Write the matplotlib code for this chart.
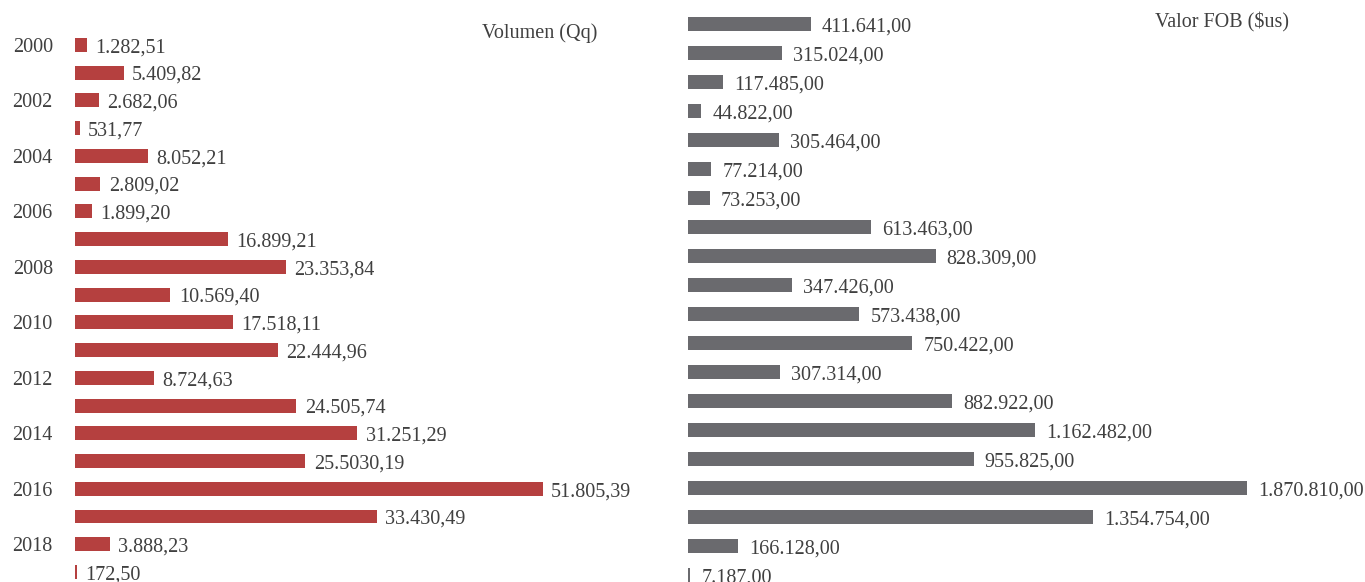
import matplotlib.pyplot as plt

years = list(range(2000, 2020))
volumen = [1282.51, 5409.82, 2682.06, 531.77, 8052.21, 2809.02, 1899.20, 16899.21,
           23353.84, 10569.40, 17518.11, 22444.96, 8724.63, 24505.74, 31251.29,
           25503.19, 51805.39, 33430.49, 3888.23, 172.50]
volumen_labels = ["1.282,51", "5.409,82", "2.682,06", "531,77", "8.052,21", "2.809,02",
                  "1.899,20", "16.899,21", "23.353,84", "10.569,40", "17.518,11",
                  "22.444,96", "8.724,63", "24.505,74", "31.251,29", "25.5030,19",
                  "51.805,39", "33.430,49", "3.888,23", "172,50"]
fob = [411641, 315024, 117485, 44822, 305464, 77214, 73253, 613463, 828309, 347426,
       573438, 750422, 307314, 882922, 1162482, 955825, 1870810, 1354754, 166128, 7187]

plt.rcParams['font.family'] = ['Liberation Serif', 'DejaVu Serif']
text_color = '#404040'
red = '#B5403F'
gray = '#6A6A6E'
fs = 14.5


def fmt(v):
    s = f"{v:,.2f}"
    return s.replace(",", "X").replace(".", ",").replace("X", ".")


fig = plt.figure(figsize=(13.65, 5.82), dpi=100)

# left panel: volumen
ax1 = fig.add_axes([75 / 1365, 0, 565 / 1365, 1])
y1 = range(len(years))
ax1.barh(y1, volumen, height=0.5, color=red)
ax1.set_ylim(19.36, -1.62)
ax1.set_xlim(0, 62560)
for i, (v, lab) in enumerate(zip(volumen, volumen_labels)):
    ax1.annotate(lab, (v, i), xytext=(6, -2), textcoords='offset points',
                 va='center', ha='left', fontsize=fs, color=text_color)
ax1.set_yticks(list(y1)[::2])
ax1.set_yticklabels([str(y) for y in years[::2]], fontsize=fs, color=text_color)
ax1.tick_params(axis='y', length=0, pad=16)
ax1.set_xticks([])
for s in ax1.spines.values():
    s.set_visible(False)
fig.text(482 / 1365, 1 - 33 / 582, "Volumen (Qq)", fontsize=fs, color=text_color,
         va='center', ha='left')

# right panel: valor FOB
ax2 = fig.add_axes([688 / 1365, 0, 677 / 1365, 1])
y2 = range(len(fob))
ax2.barh(y2, fob, height=0.48, color=gray)
ax2.set_ylim(19.24, -0.83)
ax2.set_xlim(0, 2265700)
for i, v in enumerate(fob):
    ax2.annotate(fmt(v), (v, i), xytext=(8, -2), textcoords='offset points',
                 va='center', ha='left', fontsize=fs, color=text_color)
ax2.set_xticks([])
ax2.set_yticks([])
for s in ax2.spines.values():
    s.set_visible(False)
fig.text(1155 / 1365, 1 - 22 / 582, "Valor FOB ($us)", fontsize=fs, color=text_color,
         va='center', ha='left')

fig.savefig("out.png", dpi=100)
